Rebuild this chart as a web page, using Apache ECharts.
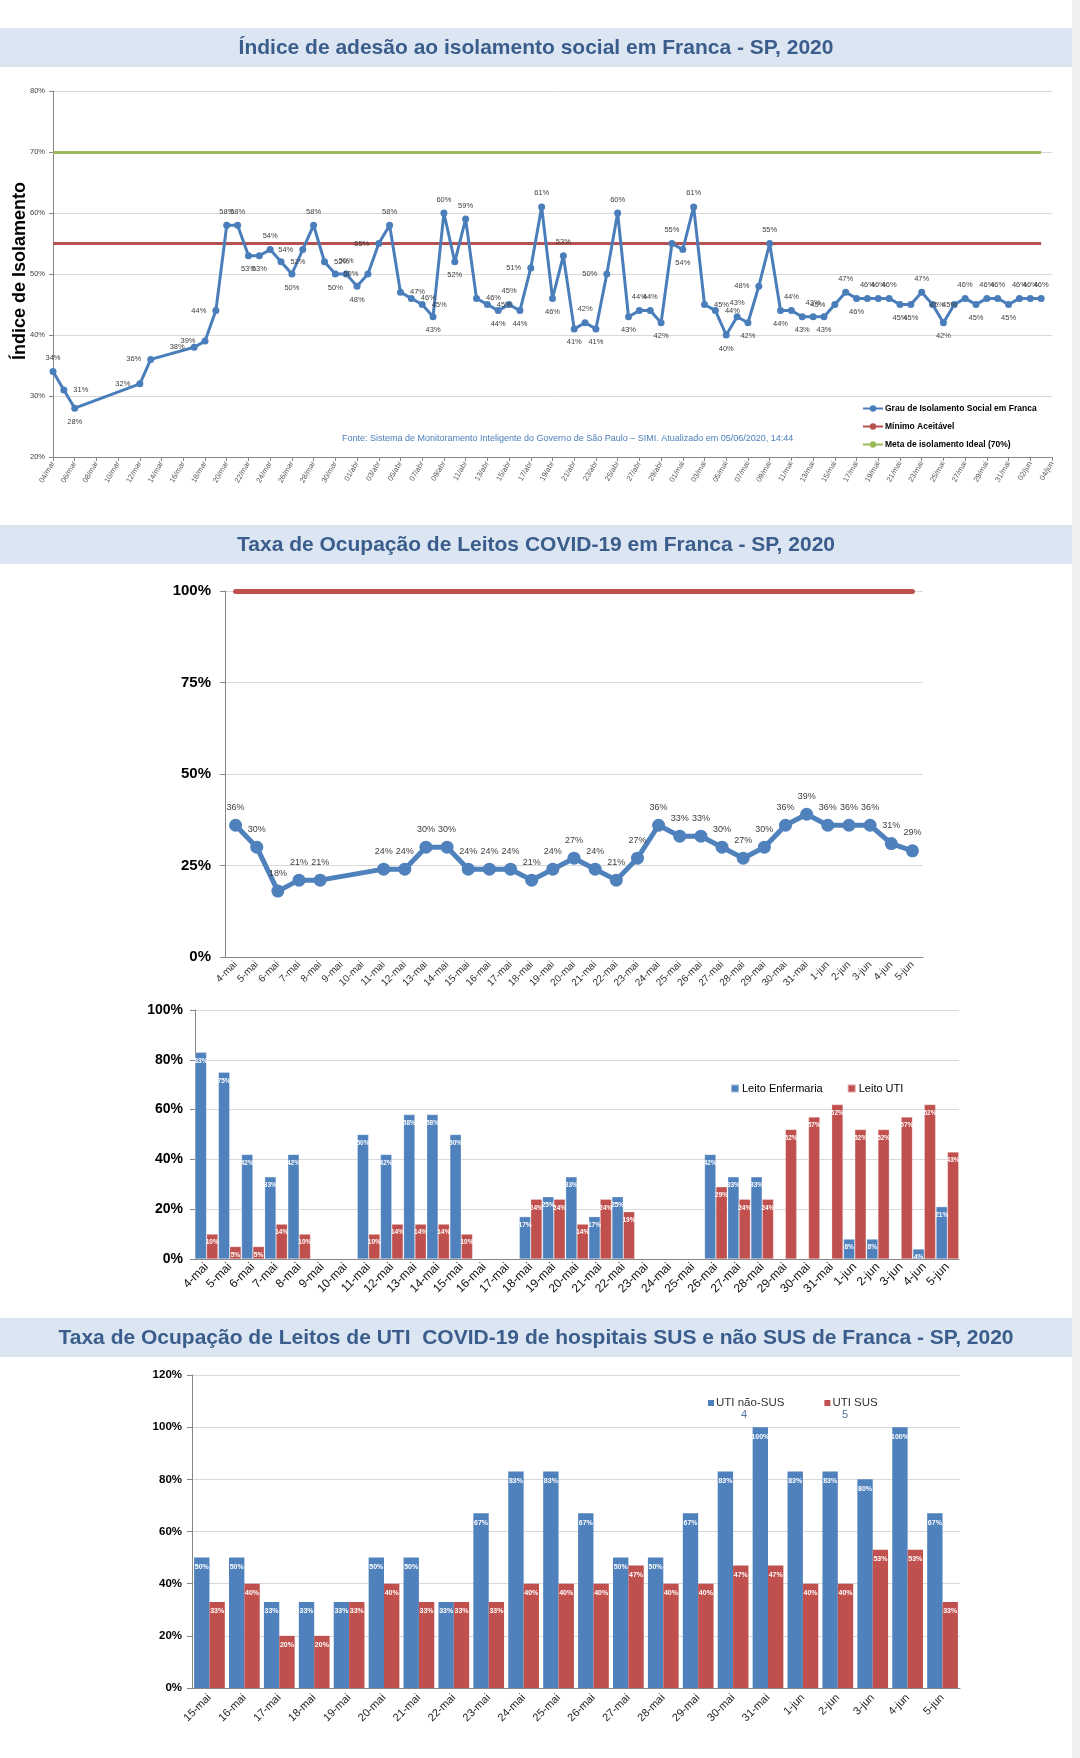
<!DOCTYPE html>
<html><head><meta charset="utf-8">
<script src="https://cdn.jsdelivr.net/npm/echarts@6/dist/echarts.min.js"></script>
<style>html,body{margin:0;padding:0;background:#fff}#c{width:1080px;height:1758px}</style>
</head><body><div id="c"></div><script>
// ---------- Chart 1: isolamento social ----------
const isoDates = ['04/mar','05/mar','06/mar','07/mar','08/mar','09/mar','10/mar','11/mar','12/mar','13/mar','14/mar','15/mar','16/mar','17/mar','18/mar','19/mar','20/mar','21/mar','22/mar','23/mar','24/mar','25/mar','26/mar','27/mar','28/mar','29/mar','30/mar','31/mar',
'01/abr','02/abr','03/abr','04/abr','05/abr','06/abr','07/abr','08/abr','09/abr','10/abr','11/abr','12/abr','13/abr','14/abr','15/abr','16/abr','17/abr','18/abr','19/abr','20/abr','21/abr','22/abr','23/abr','24/abr','25/abr','26/abr','27/abr','28/abr','29/abr','30/abr',
'01/mai','02/mai','03/mai','04/mai','05/mai','06/mai','07/mai','08/mai','09/mai','10/mai','11/mai','12/mai','13/mai','14/mai','15/mai','16/mai','17/mai','18/mai','19/mai','20/mai','21/mai','22/mai','23/mai','24/mai','25/mai','26/mai','27/mai','28/mai','29/mai','30/mai','31/mai',
'01/jun','02/jun','03/jun','04/jun'];
const isoValues = [34,31,28,null,null,null,null,null,32,36,null,null,null,38,39,44,58,58,53,53,54,52,50,54,58,52,50,50,
48,50,55,58,47,46,45,43,60,52,59,46,45,44,45,44,51,61,46,53,41,42,41,50,60,43,44,44,42,55,
54,61,45,44,40,43,42,48,55,44,44,43,43,43,45,47,46,46,46,46,45,45,47,45,42,45,46,45,46,46,45,
46,46,46,null];
const minimoAceitavel = 55;
const metaIdeal = 70;
const isoTicks = [20,30,40,50,60,70,80];

// ---------- Chart 2 & 3: ocupação de leitos ----------
const bedDates = ['4-mai','5-mai','6-mai','7-mai','8-mai','9-mai','10-mai','11-mai','12-mai','13-mai','14-mai','15-mai','16-mai','17-mai','18-mai','19-mai','20-mai','21-mai','22-mai','23-mai','24-mai','25-mai','26-mai','27-mai','28-mai','29-mai','30-mai','31-mai','1-jun','2-jun','3-jun','4-jun','5-jun'];
const bedOccupancy = [36,30,18,21,21,null,null,24,24,30,30,24,24,24,21,24,27,24,21,27,36,33,33,30,27,30,36,39,36,36,36,31,29];
const bedLimit = 100;
const wardValues = [83,75,42,33,42,null,null,50,42,58,58,50,null,null,17,25,33,17,25,null,null,null,42,33,33,null,null,null,8,8,null,4,21];
const icuValues  = [10,5,5,14,10,null,null,10,14,14,14,10,null,null,24,24,14,24,19,null,null,null,29,24,24,52,57,62,52,52,57,62,43];

// ---------- Chart 4: UTI SUS x não SUS ----------
const susDates = ['15-mai','16-mai','17-mai','18-mai','19-mai','20-mai','21-mai','22-mai','23-mai','24-mai','25-mai','26-mai','27-mai','28-mai','29-mai','30-mai','31-mai','1-jun','2-jun','3-jun','4-jun','5-jun'];
const icuNonSus = [50,50,33,33,33,50,50,33,67,83,83,67,50,50,67,83,100,83,83,80,100,67];
const icuSus    = [33,40,20,20,33,40,33,33,33,40,40,40,47,40,40,47,47,40,40,53,53,33];

const FONT = 'Liberation Sans, Arial, sans-serif';
const BLUE = '#4f81bd', RED = '#c0504d', GREEN = '#9bbb59';
const TITLE_C = '#3b5d8c', BAND_C = '#dce6f2';

function neighbor(arr, i, step){ for(let j=i+step;j>=0&&j<arr.length;j+=step){ if(arr[j]!=null) return arr[j]; } return null; }
const isoData = isoValues.map((v,i)=>{
  if(v==null) return null;
  const p = neighbor(isoValues,i,-1), n = neighbor(isoValues,i,1);
  let pos;
  if((p==null||v>=p)&&(n==null||v>=n)) pos='top';
  else if((p==null||v<=p)&&(n==null||v<=n)) pos='bottom';
  else if(p!=null && v>p) pos='left';
  else pos='right';
  return {value:v, label:{position:pos}};
});

const pct = '{value}%';
const axisGray = '#868686', gridGray = '#d9d9d9';

const chart = echarts.init(document.getElementById('c'), null, {renderer:'canvas'});
const option = {
  animation:false,
  textStyle:{fontFamily:FONT},
  grid:[
    {left:53, top:91, width:999, height:366},
    {left:225, top:591, width:698, height:366},
    {left:195, top:1010, width:764, height:249},
    {left:192, top:1375, width:768, height:313}
  ],
  xAxis:[
    {gridIndex:0, type:'category', data:isoDates, boundaryGap:false,
     axisLine:{lineStyle:{color:axisGray}}, axisTick:{interval:1, length:4, lineStyle:{color:axisGray}},
     axisLabel:{interval:1, rotate:60, fontSize:7.5, color:'#595959', margin:5}},
    {gridIndex:1, type:'category', data:bedDates,
     axisLine:{lineStyle:{color:axisGray}}, axisTick:{length:5, lineStyle:{color:axisGray}},
     axisLabel:{interval:0, rotate:45, fontSize:10, color:'#333', margin:6}},
    {gridIndex:2, type:'category', data:bedDates,
     axisLine:{lineStyle:{color:axisGray}}, axisTick:{length:5, lineStyle:{color:axisGray}},
     axisLabel:{interval:0, rotate:45, fontSize:12, color:'#111', margin:6}},
    {gridIndex:3, type:'category', data:susDates,
     axisLine:{lineStyle:{color:axisGray}}, axisTick:{length:5, lineStyle:{color:axisGray}},
     axisLabel:{interval:0, rotate:45, fontSize:11, color:'#222', margin:8}}
  ],
  yAxis:[
    {gridIndex:0, type:'value', min:20, max:80, interval:10,
     axisLine:{show:true, lineStyle:{color:axisGray}}, axisTick:{show:true, length:4, lineStyle:{color:axisGray}},
     splitLine:{lineStyle:{color:gridGray}}, axisLabel:{formatter:pct, fontSize:7.5, color:'#404040', margin:8}},
    {gridIndex:1, type:'value', min:0, max:100, interval:25,
     axisLine:{show:true, lineStyle:{color:axisGray}}, axisTick:{show:true, length:5, lineStyle:{color:axisGray}},
     splitLine:{lineStyle:{color:gridGray}}, axisLabel:{formatter:pct, fontSize:15, fontWeight:'bold', color:'#000', margin:14}},
    {gridIndex:2, type:'value', min:0, max:100, interval:20,
     axisLine:{show:true, lineStyle:{color:axisGray}}, axisTick:{show:true, length:5, lineStyle:{color:axisGray}},
     splitLine:{lineStyle:{color:gridGray}}, axisLabel:{formatter:pct, fontSize:14, fontWeight:'bold', color:'#000', margin:12}},
    {gridIndex:3, type:'value', min:0, max:120, interval:20,
     axisLine:{show:true, lineStyle:{color:axisGray}}, axisTick:{show:true, length:5, lineStyle:{color:axisGray}},
     splitLine:{lineStyle:{color:gridGray}}, axisLabel:{formatter:pct, fontSize:11.5, fontWeight:'bold', color:'#000', margin:10}}
  ],
  legend:[
    {data:['Grau de Isolamento Social em Franca','Mínimo Aceitável','Meta de isolamento Ideal (70%)'],
     orient:'vertical', left:862, top:404, itemWidth:20, itemHeight:8, itemGap:9, padding:0,
     textStyle:{fontSize:8.5, fontWeight:'bold', color:'#000', padding:[0,0,0,-3]}},
    {data:['Leito Enfermaria','Leito UTI'], left:730, top:1083, icon:'rect', itemWidth:8, itemHeight:8, itemGap:24, padding:0,
     textStyle:{fontSize:11, color:'#000', padding:[0,0,0,-2]}},
    {data:['UTI não-SUS','UTI SUS'], left:708, top:1397, icon:'rect', itemWidth:6, itemHeight:6, itemGap:40, padding:0,
     textStyle:{fontSize:11.5, color:'#333', padding:[0,0,0,-3]}}
  ],
  series:[
    {name:'Grau de Isolamento Social em Franca', type:'line', xAxisIndex:0, yAxisIndex:0, data:isoData, connectNulls:true,
     color:'#4a7ebb', lineStyle:{width:3}, symbol:'circle', symbolSize:7,
     label:{show:true, formatter:'{c}%', fontSize:7.5, color:'#404040', distance:6}, z:5},
    {name:'Mínimo Aceitável', type:'line', xAxisIndex:0, yAxisIndex:0, data:[], symbol:'none', color:'#b5524f', lineStyle:{width:3},
     markLine:{silent:true, symbol:['none','none'], label:{show:false}, lineStyle:{color:'#b5524f', width:3, type:'solid'},
       data:[[{coord:['04/mar',minimoAceitavel]},{coord:['03/jun',minimoAceitavel]}]]}},
    {name:'Meta de isolamento Ideal (70%)', type:'line', xAxisIndex:0, yAxisIndex:0, data:[], symbol:'none', color:GREEN, lineStyle:{width:3},
     markLine:{silent:true, symbol:['none','none'], label:{show:false}, lineStyle:{color:GREEN, width:3, type:'solid'},
       data:[[{coord:['04/mar',metaIdeal]},{coord:['03/jun',metaIdeal]}]]}},

    {name:'Taxa de Ocupação', type:'line', xAxisIndex:1, yAxisIndex:1, data:bedOccupancy, connectNulls:true,
     color:BLUE, lineStyle:{width:5}, symbol:'circle', symbolSize:13,
     label:{show:true, position:'top', formatter:'{c}%', fontSize:9, color:'#404040', distance:7}, z:5},
    {name:'Limite', type:'line', xAxisIndex:1, yAxisIndex:1, data:[], symbol:'none', color:RED,
     markLine:{silent:true, symbol:['none','none'], label:{show:false}, lineStyle:{color:RED, width:5, type:'solid', cap:'round'},
       data:[[{coord:['4-mai',bedLimit]},{coord:['5-jun',bedLimit]}]]}},

    {name:'Leito Enfermaria', type:'bar', xAxisIndex:2, yAxisIndex:2, data:wardValues, color:BLUE, barGap:'0%', barCategoryGap:'2%',
     itemStyle:{borderColor:'rgba(255,255,255,0.5)', borderWidth:0.5},
     label:{show:true, position:'insideTop', formatter:'{c}%', fontSize:6.5, fontWeight:'bold', color:'#fff', distance:5}},
    {name:'Leito UTI', type:'bar', xAxisIndex:2, yAxisIndex:2, data:icuValues, color:RED, barGap:'0%', barCategoryGap:'2%',
     itemStyle:{borderColor:'rgba(255,255,255,0.5)', borderWidth:0.5},
     label:{show:true, position:'insideTop', formatter:'{c}%', fontSize:6.5, fontWeight:'bold', color:'#fff', distance:5}},

    {name:'UTI não-SUS', type:'bar', xAxisIndex:3, yAxisIndex:3, data:icuNonSus, color:BLUE, barGap:'0%', barCategoryGap:'12%',
     label:{show:true, position:'insideTop', formatter:'{c}%', fontSize:7, fontWeight:'bold', color:'#fff', distance:6}},
    {name:'UTI SUS', type:'bar', xAxisIndex:3, yAxisIndex:3, data:icuSus, color:RED, barGap:'0%', barCategoryGap:'12%',
     label:{show:true, position:'insideTop', formatter:'{c}%', fontSize:7, fontWeight:'bold', color:'#fff', distance:6}}
  ],
  graphic:[
    {type:'rect', shape:{x:1072, y:0, width:8, height:1758}, style:{fill:'#f0f0f0'}, silent:true},
    {type:'rect', shape:{x:0, y:28, width:1072, height:39}, style:{fill:BAND_C}, silent:true},
    {type:'text', x:536, y:48, style:{text:'Índice de adesão ao isolamento social em Franca - SP, 2020', fill:TITLE_C, font:'bold 21px '+FONT, align:'center', verticalAlign:'middle'}},
    {type:'rect', shape:{x:0, y:525, width:1072, height:39}, style:{fill:BAND_C}, silent:true},
    {type:'text', x:536, y:545, style:{text:'Taxa de Ocupação de Leitos COVID-19 em Franca - SP, 2020', fill:TITLE_C, font:'bold 21px '+FONT, align:'center', verticalAlign:'middle'}},
    {type:'rect', shape:{x:0, y:1318, width:1072, height:39}, style:{fill:BAND_C}, silent:true},
    {type:'text', x:536, y:1338, style:{text:'Taxa de Ocupação de Leitos de UTI  COVID-19 de hospitais SUS e não SUS de Franca - SP, 2020', fill:TITLE_C, font:'bold 21px '+FONT, align:'center', verticalAlign:'middle'}},
    {type:'text', x:20, y:271, rotation:Math.PI/2, style:{text:'Índice de Isolamento', fill:'#000', font:'bold 18px '+FONT, align:'center', verticalAlign:'middle'}},
    {type:'text', x:342, y:439, style:{text:'Fonte: Sistema de Monitoramento Inteligente do Governo de São Paulo – SIMI. Atualizado em 05/06/2020, 14:44', fill:'#4a7ebb', font:'9px '+FONT, verticalAlign:'middle'}},
    {type:'text', x:744, y:1415, style:{text:'4', fill:'#55739f', font:'11px '+FONT, align:'center', verticalAlign:'middle'}},
    {type:'text', x:845, y:1415, style:{text:'5', fill:'#55739f', font:'11px '+FONT, align:'center', verticalAlign:'middle'}}
  ]
};
chart.setOption(option);
</script></body></html>
